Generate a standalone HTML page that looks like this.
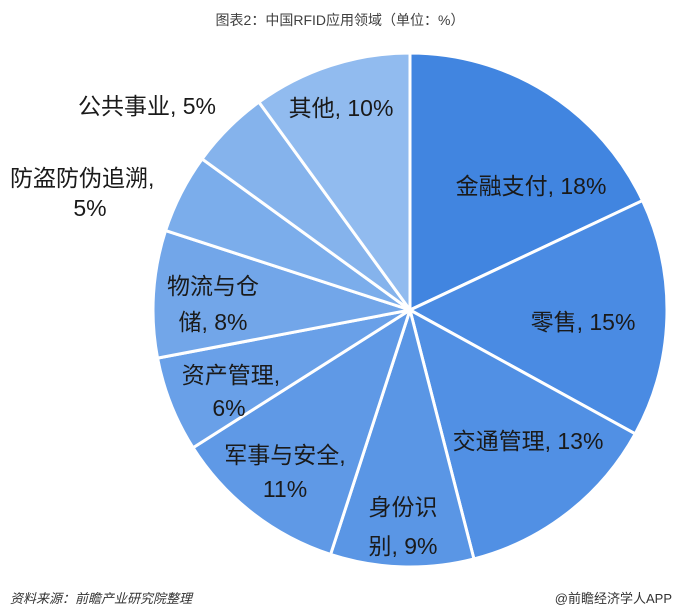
<!DOCTYPE html>
<html><head><meta charset="utf-8"><style>
body{margin:0;background:#fff;width:680px;height:615px;overflow:hidden;font-family:"Liberation Sans","Noto Sans CJK SC",sans-serif}
svg{display:block}
</style></head><body>
<svg id="s" width="680" height="615" xmlns="http://www.w3.org/2000/svg">
<text x="340" y="25" text-anchor="middle" font-size="14" fill="#404040" font-family="Liberation Sans, Noto Sans CJK SC, sans-serif">图表2：中国RFID应用领域（单位：%）</text>
<g id="pie"></g>
<g font-size="23" fill="#1a1a1a" text-anchor="middle" font-family="Liberation Sans, Noto Sans CJK SC, sans-serif">
<text x="341" y="116">其他, 10%</text>
<text x="531" y="194">金融支付, 18%</text>
<text x="583" y="330">零售, 15%</text>
<text x="528" y="449">交通管理, 13%</text>
<text x="403" y="515">身份识</text>
<text x="403" y="554">别, 9%</text>
<text x="285" y="463">军事与安全,</text>
<text x="285" y="497">11%</text>
<text x="231" y="383">资产管理,</text>
<text x="229" y="416">6%</text>
<text x="213" y="294">物流与仓</text>
<text x="213" y="330">储, 8%</text>
<text x="10" y="186" text-anchor="start">防盗防伪追溯,</text>
<text x="90" y="216">5%</text>
<text x="147" y="114">公共事业, 5%</text>
</g>
<text x="10" y="603" font-size="13" fill="#333" font-style="italic" font-family="Liberation Sans, Noto Sans CJK SC, sans-serif">资料来源：前瞻产业研究院整理</text>
<text x="672" y="603" font-size="13" fill="#333" text-anchor="end" font-family="Liberation Sans, Noto Sans CJK SC, sans-serif">@前瞻经济学人APP</text>
</svg>
<script>
var v=[18,15,13,9,11,6,8,5,5,10];
var c=["#4185e0","#4a8be3","#5190e4","#5a96e5","#5f99e6","#69a0e8","#72a6e9","#7badeb","#85b3ec","#91bbef"];
var cx=410,cy=310,r=257,a=0,g=document.getElementById('pie'),h='';
function p(t){return [cx+r*Math.sin(t),cy-r*Math.cos(t)];}
for(var i=0;i<v.length;i++){var a0=a,a1=a+v[i]/100*2*Math.PI;a=a1;var s=p(a0),e=p(a1);
h+='<path d="M'+cx+','+cy+'L'+s[0].toFixed(2)+','+s[1].toFixed(2)+'A'+r+','+r+' 0 '+((a1-a0)>Math.PI?1:0)+' 1 '+e[0].toFixed(2)+','+e[1].toFixed(2)+'Z" fill="'+c[i]+'" stroke="#fff" stroke-width="3" stroke-linejoin="round"/>';}
g.innerHTML=h;
</script>
</body></html>
